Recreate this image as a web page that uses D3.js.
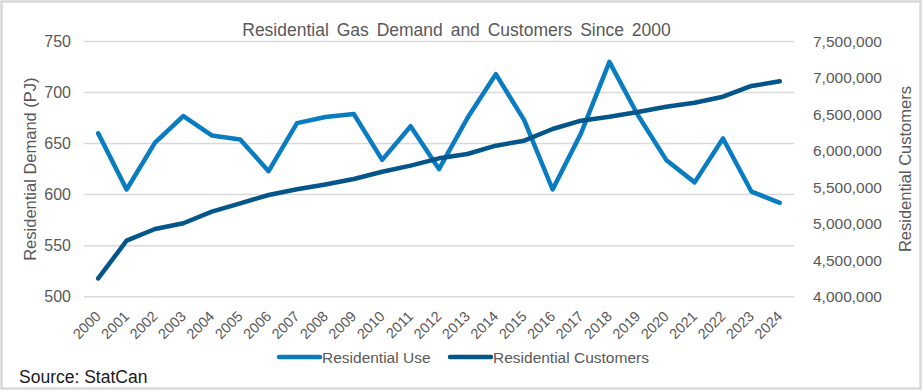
<!DOCTYPE html>
<html>
<head>
<meta charset="utf-8">
<script src="https://cdn.jsdelivr.net/npm/d3@7"></script>
<style>
  html, body { margin: 0; padding: 0; background: #fff; }
  svg { display: block; font-family: "Liberation Sans", Arial, sans-serif; }
</style>
</head>
<body>
<svg id="chart" width="923" height="391"></svg>
<script>
const years = ["2000","2001","2002","2003","2004","2005","2006","2007","2008","2009","2010","2011","2012","2013","2014","2015","2016","2017","2018","2019","2020","2021","2022","2023","2024"];
const residentialUse = [660, 605, 651, 677, 658, 654, 623, 670, 676, 679, 634, 667, 625, 675, 718, 673, 605, 660, 730, 678, 634, 612, 655, 603, 592];
const residentialCustomers = [4250000, 4768000, 4929000, 5007000, 5166000, 5281000, 5395000, 5473000, 5540000, 5614000, 5714000, 5797000, 5898000, 5957000, 6071000, 6140000, 6300000, 6414000, 6469000, 6533000, 6606000, 6660000, 6743000, 6890000, 6954000];
const leftTicks = [500, 550, 600, 650, 700, 750];
const rightTicks = [4000000, 4500000, 5000000, 5500000, 6000000, 6500000, 7000000, 7500000];

const svg = d3.select("#chart");
const W = 923, H = 391;
const m = { left: 84, right: 794, top: 41.5, bottom: 296.7 };
const textColor = "#595959";
const useColor = "#0a7cc1";
const custColor = "#04568a";

// outer border
svg.append("rect").attr("x", 1.5).attr("y", 1.5).attr("width", W - 4).attr("height", H - 4)
  .attr("fill", "#fff").attr("stroke", "#d9d9d9").attr("stroke-width", 2.5);

const x = d3.scaleBand().domain(years).range([m.left, m.right]);
const yL = d3.scaleLinear().domain([500, 750]).range([m.bottom, m.top]);
const yR = d3.scaleLinear().domain([4000000, 7500000]).range([m.bottom, m.top]);

// gridlines
svg.append("g").selectAll("line").data(leftTicks).join("line")
  .attr("x1", m.left).attr("x2", m.right)
  .attr("y1", d => yL(d)).attr("y2", d => yL(d))
  .attr("stroke", "#d9d9d9").attr("stroke-width", 1.5);

// left axis
const gL = svg.append("g").attr("transform", `translate(${m.left - 13},0)`)
  .call(d3.axisLeft(yL).tickValues(leftTicks).tickSize(0).tickPadding(0));
gL.select(".domain").remove();
gL.selectAll("text").attr("fill", textColor).style("font-size", "16px")
  .style("font-family", '"Liberation Sans", Arial, sans-serif');

// right axis
const gR = svg.append("g").attr("transform", `translate(${m.right + 19},0)`)
  .call(d3.axisRight(yR).tickValues(rightTicks).tickSize(0).tickPadding(0).tickFormat(d3.format(",")));
gR.select(".domain").remove();
gR.selectAll("text").attr("fill", textColor).style("font-size", "15.5px")
  .style("font-family", '"Liberation Sans", Arial, sans-serif');

// x axis
const gX = svg.append("g").attr("transform", `translate(0,${m.bottom})`)
  .call(d3.axisBottom(x).tickSize(0).tickPadding(0));
gX.select(".domain").remove();
gX.selectAll("text")
  .attr("fill", textColor).style("font-size", "14.5px")
  .style("font-family", '"Liberation Sans", Arial, sans-serif')
  .attr("text-anchor", "end")
  .attr("dy", null).attr("y", 0)
  .attr("transform", "translate(3.5,20.5) rotate(-45)");

// lines
const lineUse = d3.line().x((d, i) => x(years[i]) + x.bandwidth() / 2).y(d => yL(d));
const lineCust = d3.line().x((d, i) => x(years[i]) + x.bandwidth() / 2).y(d => yR(d));

svg.append("path").datum(residentialUse).attr("d", lineUse)
  .attr("fill", "none").attr("stroke", useColor).attr("stroke-width", 4.5)
  .attr("stroke-linejoin", "round").attr("stroke-linecap", "round");
svg.append("path").datum(residentialCustomers).attr("d", lineCust)
  .attr("fill", "none").attr("stroke", custColor).attr("stroke-width", 4.5)
  .attr("stroke-linejoin", "round").attr("stroke-linecap", "round");

// title
svg.append("text").attr("x", 456.5).attr("y", 36).attr("text-anchor", "middle")
  .attr("fill", textColor).style("font-size", "17.5px").style("word-spacing", "3px")
  .text("Residential Gas Demand and Customers Since 2000");

// axis titles
svg.append("text").attr("transform", `translate(36,${(m.top + m.bottom) / 2}) rotate(-90)`)
  .attr("text-anchor", "middle").attr("fill", textColor).style("font-size", "16.5px")
  .text("Residential Demand (PJ)");
svg.append("text").attr("transform", `translate(911,${(m.top + m.bottom) / 2}) rotate(-90)`)
  .attr("text-anchor", "middle").attr("fill", textColor).style("font-size", "16.5px")
  .text("Residential Customers");

// legend
const legend = [
  { name: "Residential Use", color: useColor, x: 279 },
  { name: "Residential Customers", color: custColor, x: 450 }
];
const lg = svg.append("g");
legend.forEach(l => {
  lg.append("line").attr("x1", l.x).attr("x2", l.x + 41).attr("y1", 357).attr("y2", 357)
    .attr("stroke", l.color).attr("stroke-width", 4.5).attr("stroke-linecap", "round");
  lg.append("text").attr("x", l.x + 43).attr("y", 362.5).attr("fill", textColor)
    .style("font-size", "15.5px").text(l.name);
});

// source
svg.append("text").attr("x", 19).attr("y", 383).attr("fill", "#1a1a1a")
  .style("font-size", "17.5px").text("Source: StatCan");
</script>
</body>
</html>
